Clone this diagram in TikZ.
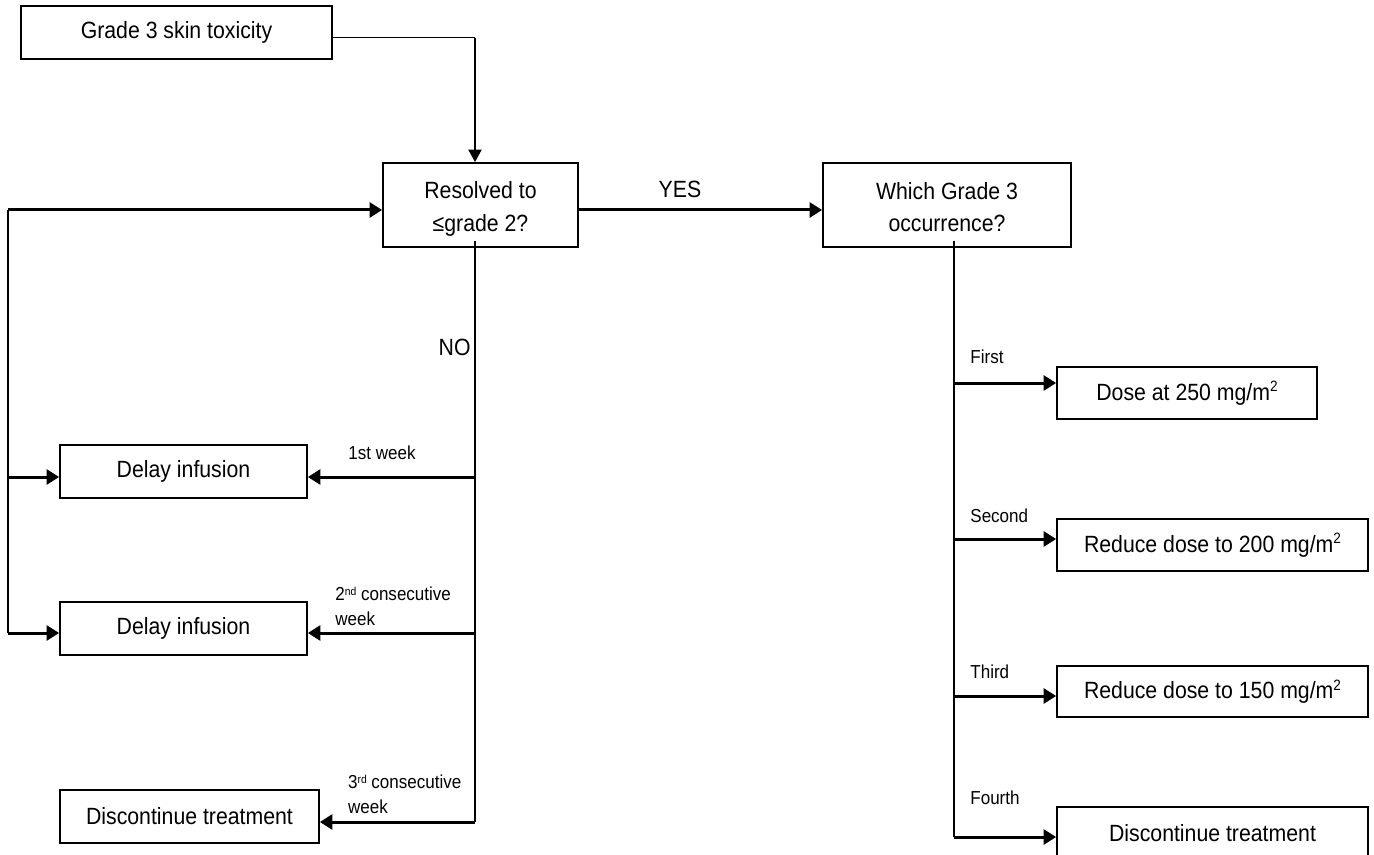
\documentclass[tikz,border=0pt]{standalone}
\usepackage{fontspec}
\setmainfont{Liberation Sans}[FakeStretch=0.905]
\usetikzlibrary{arrows.meta}
\newcommand\mainfs{\fontsize{11.75pt}{16.3pt}\selectfont}
\newcommand\smallfs{\fontsize{9.4pt}{12.3pt}\selectfont}
\newcommand\suptwo{\raisebox{4.3pt}{\fontsize{7.5pt}{8pt}\selectfont 2}}
\newcommand\supsm[1]{\raisebox{2.5pt}{\fontsize{5.7pt}{6pt}\selectfont #1}}
\begin{document}
\begin{tikzpicture}[x=0.5pt,y=-0.5pt,
  box/.style={draw,line width=0.85pt,inner sep=0pt,align=center,font=\mainfs},
  thinline/.style={line width=0.7pt},
  arr/.style={line width=1.5pt,-{Triangle[length=6.3pt,width=7.5pt]}},
  downarr/.style={line width=1.15pt,-{Triangle[length=6.3pt,width=6.5pt]}},
  lab/.style={inner sep=0pt,font=\smallfs},
  biglab/.style={inner sep=0pt,font=\mainfs}]
\useasboundingbox (0,0) rectangle (1374,855);
% boxes
\node[box,minimum width=155.5pt,minimum height=26.5pt] (g3) at (176.5,32.5) {Grade 3 skin toxicity};
\node[box,minimum width=97.5pt,minimum height=42pt] (res) at (480.5,205) {\rule{0pt}{12.5pt}Resolved to\\≤grade 2?};
\node[box,minimum width=124pt,minimum height=42pt] (which) at (947,205) {\rule{0pt}{10.5pt}Which Grade 3\\occurrence?};
\node[box,minimum width=130pt,minimum height=26pt] (d250) at (1187,393) {Dose at 250 mg/m\suptwo};
\node[box,minimum width=155.5pt,minimum height=26pt] (r200) at (1212.5,545) {Reduce dose to 200 mg/m\suptwo};
\node[box,minimum width=155.5pt,minimum height=25.5pt] (r150) at (1212.5,691.5) {Reduce dose to 150 mg/m\suptwo};
\node[box,minimum width=155.5pt,minimum height=26pt] (discR) at (1212.5,833) {Discontinue treatment};
\node[box,minimum width=123.5pt,minimum height=26.5pt] (del1) at (183.5,471.5) {Delay infusion};
\node[box,minimum width=123.5pt,minimum height=26.5pt] (del2) at (183.5,628.5) {Delay infusion};
\node[box,minimum width=129.5pt,minimum height=26.5pt] (discL) at (189.5,816.5) {Discontinue treatment};
% coordinates
\coordinate (gc) at (475,37.7);
\coordinate (L0) at (8,210);
\coordinate (L1) at (8,477);
\coordinate (L2) at (8,633);
\coordinate (N0) at (475,241);
\coordinate (N1) at (475,477);
\coordinate (N2) at (475,633);
\coordinate (N3) at (475,822);
\coordinate (W0) at (954,241);
\coordinate (W1) at (954,383);
\coordinate (W2) at (954,539);
\coordinate (W3) at (954,696);
\coordinate (W4) at (954,837);
% connectors
\draw[thinline] (g3.east |- gc) -- (gc);
\draw[downarr] (gc) -- (gc |- res.north);
\draw[arr] (L0) -- (L0 -| res.west);
\draw[thinline] (L0) -- (L2);
\draw[arr] (L1) -- (L1 -| del1.west);
\draw[arr] (L2) -- (L2 -| del2.west);
\draw[arr] (res.east |- L0) -- (which.west |- L0);
\draw[thinline] (N0) -- (N3);
\draw[arr] (N1) -- (N1 -| del1.east);
\draw[arr] (N2) -- (N2 -| del2.east);
\draw[arr] (N3) -- (N3 -| discL.east);
\draw[thinline] (W0) -- (W4);
\draw[arr] (W1) -- (W1 -| d250.west);
\draw[arr] (W2) -- (W2 -| r200.west);
\draw[arr] (W3) -- (W3 -| r150.west);
\draw[arr] (W4) -- (W4 -| discR.west);
% labels
\node[biglab,anchor=base] (yes) at (680,197.4) {YES};
\node[biglab,anchor=base east] (no) at (471,355.4) {NO};
\node[lab,anchor=base] (wk1) at (382,459.7) {1st week};
\node[lab,anchor=west,align=left] (wk2) at (335,606) {2\supsm{nd} consecutive\\week};
\node[lab,anchor=west,align=left] (wk3) at (347.7,794) {3\supsm{rd} consecutive\\week};
\node[lab,anchor=base west] (oc1) at (970,364) {First};
\node[lab,anchor=base west] (oc2) at (970,522) {Second};
\node[lab,anchor=base west] (oc3) at (970,678.4) {Third};
\node[lab,anchor=base west] (oc4) at (970,804.7) {Fourth};
\end{tikzpicture}
\end{document}
